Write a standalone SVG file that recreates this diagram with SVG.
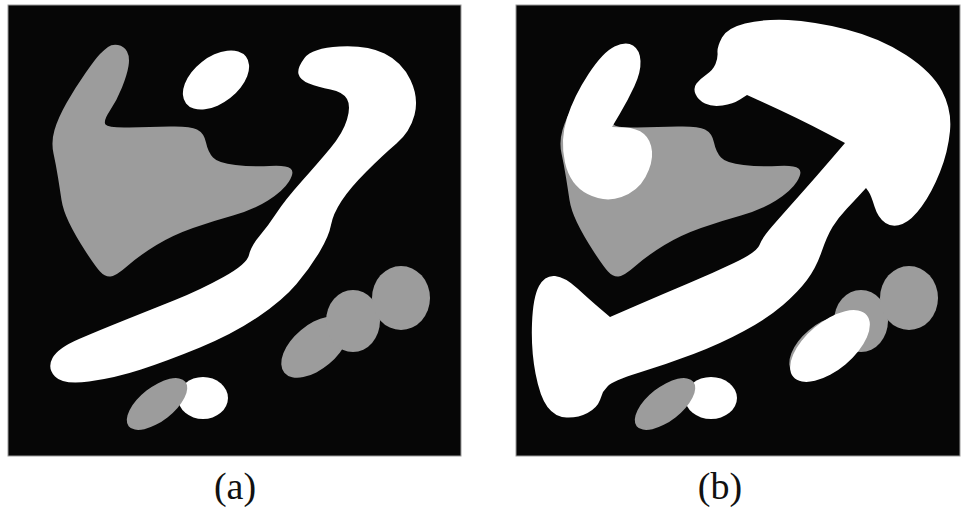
<svg xmlns="http://www.w3.org/2000/svg" width="962" height="510" viewBox="0 0 962 510">
<style>
.bg{fill:#060606;stroke:#9a9a9a;stroke-width:1}
.g{fill:#9c9c9c}
.w{fill:#ffffff}
.lbl{font-family:"Liberation Serif",serif;font-size:38px;fill:#111;text-anchor:middle}
</style>
<defs>
<path id="grayblob" d="M108,47 Q104,50 100,54 Q96,58 85.5,73 Q75,88 66.5,103 Q58,118 54.5,130 Q51,142 53.5,153.5 Q56,165 58,177.5 Q60,190 61.5,200 Q63,210 69,222.5 Q75,235 85,250.5 Q95,266 100,271.5 Q105,277 110.5,276.5 Q116,276 128,265.5 Q140,255 156.5,245 Q173,235 193,228 Q213,221 233,215.5 Q253,210 268,200.5 Q283,191 289,181.5 Q295,172 290.5,168.5 Q286,165 269.5,166 Q253,167 235.5,165 Q218,163 213,157.5 Q208,152 206,142.5 Q204,133 197,129.5 Q190,126 170,126.5 Q150,127 129,127.5 Q108,128 105.5,124.5 Q103,121 110,110.5 Q117,100 122,87.5 Q127,75 128.5,66 Q130,57 127,51.5 Q124,46 118,45 Q112,44 108,47 Z"/>
<g id="graycluster">
<ellipse cx="315" cy="347" rx="40" ry="22" transform="rotate(-40 315 347)"/>
<ellipse cx="353" cy="321" rx="27" ry="31"/>
<ellipse cx="401" cy="298" rx="29" ry="32"/>
</g>
</defs>
<g id="panel-a">
<rect class="bg" x="8" y="5" width="453" height="451"/>
<use href="#grayblob" class="g"/>
<use href="#graycluster" class="g"/>
<ellipse class="w" cx="216" cy="80" rx="38" ry="23" transform="rotate(-38 216 80)"/>
<path class="w" d="M309,83.5 Q300,80 298.5,74 Q297,68 304.5,58 Q312,48 339.5,46.5 Q367,45 384.5,53.5 Q402,62 410.5,80 Q419,98 414.5,115 Q410,132 396.5,143.5 Q383,155 366.5,171.5 Q350,188 341.5,201 Q333,214 331,225 Q329,236 319.5,252 Q310,268 296.5,284 Q283,300 258,317 Q233,334 200,347.5 Q167,361 141,369.5 Q115,378 89,381.5 Q63,385 55,376.5 Q47,368 52.5,358 Q58,348 79,339 Q100,330 125,320 Q150,310 175,300 Q200,290 223.5,277 Q247,264 249,255 Q251,246 259.5,236 Q268,226 276.5,213 Q285,200 301.5,181.5 Q318,163 330.5,148 Q343,133 347,119.5 Q351,106 347,99 Q343,92 330.5,89.5 Q318,87 309,83.5 Z"/>
<ellipse class="w" cx="203" cy="398" rx="25" ry="21"/>
<ellipse class="g" cx="157" cy="404" rx="36" ry="17" transform="rotate(-38 157 404)"/>
</g>
<g id="panel-b">
<rect class="bg" x="516" y="5" width="444" height="451"/>
<use href="#grayblob" class="g" transform="translate(508 0)"/>
<use href="#graycluster" class="g" transform="translate(508 0)"/>
<path class="w" d="M633,45.5 Q626,41 614.5,46.5 Q603,52 588.5,74 Q574,96 567,118 Q560,140 565,162.5 Q570,185 587.5,194 Q605,203 621.5,197 Q638,191 645.5,177 Q653,163 652,151.5 Q651,140 644,134 Q637,128 624.5,127.5 L612,127 L620,113.5 Q628,100 634.5,86 Q641,72 640.5,61 Q640,50 633,45.5 Z"/>
<path class="w" d="M717.5,52.5 Q717,47 722,37.5 Q727,28 745,23.5 Q763,19 788,20 Q813,21 846.5,29.5 Q880,38 906,55 Q932,72 942,91 Q952,110 950,131 Q948,152 940,172 Q932,192 922,206 Q912,220 902.5,224 Q893,228 885.5,223 Q878,218 874.5,206.5 Q871,195 868.5,191.5 L866,188 L860.5,194 Q855,200 846.5,209 Q838,218 832.5,227 Q827,236 821.5,252 Q816,268 807,280 Q798,292 783,305 Q768,318 744,331 Q720,344 693.5,354 Q667,364 639.5,372.5 Q612,381 607.5,386.5 L603,392 L600,400 Q597,408 587.5,413 Q578,418 566.5,417.5 Q555,417 547.5,407 Q540,397 535.5,373.5 Q531,350 532,323.5 Q533,297 539,286 Q545,275 555,276 Q565,277 577.5,288.5 Q590,300 600,308.5 L610,317 L636.5,305.5 Q663,294 688,283.5 Q713,273 735,262.5 Q757,252 759.5,245 Q762,238 772,226.5 Q782,215 798.5,196.5 Q815,178 830,160.5 L845,143 L829,134.5 Q813,126 796.5,118 Q780,110 763.5,102.5 L747,95 L740,99.5 Q733,104 722.5,105.5 Q712,107 705,103.5 Q698,100 695.5,94 Q693,88 696.5,83.5 Q700,79 706.5,74.5 Q713,70 715.5,64 Q718,58 717.5,52.5 Z"/>
<ellipse class="w" cx="830" cy="346" rx="48" ry="24" transform="rotate(-40 830 346)"/>
<ellipse class="w" cx="711" cy="398" rx="26" ry="21"/>
<ellipse class="g" cx="665" cy="404" rx="36" ry="17" transform="rotate(-38 665 404)"/>
</g>
<text class="lbl" x="235" y="499">(a)</text>
<text class="lbl" x="720" y="499">(b)</text>
</svg>
